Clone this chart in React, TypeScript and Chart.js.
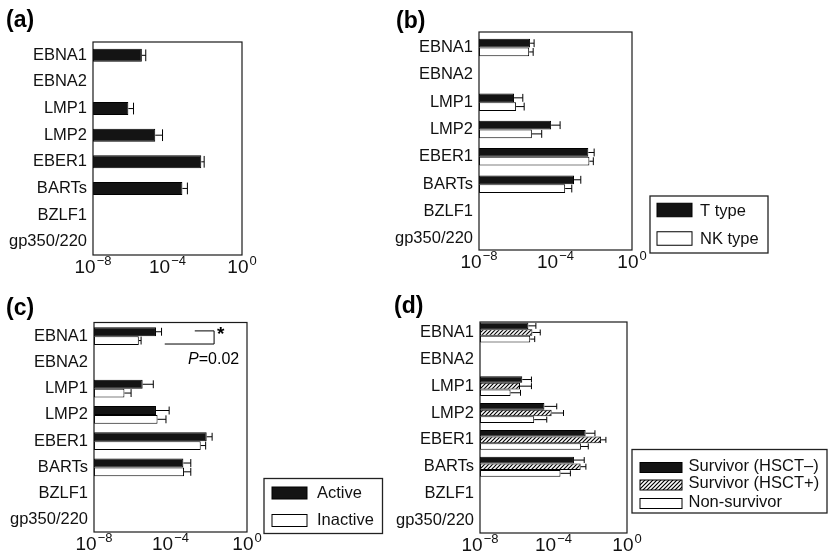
import React, { useEffect, useRef } from 'react';
import { Chart, registerables } from 'chart.js';

Chart.register(...registerables);

// ---------- data ----------
const categories = ['EBNA1', 'EBNA2', 'LMP1', 'LMP2', 'EBER1', 'BARTs', 'BZLF1', 'gp350/220'];
const xTickValues = [1e-8, 1e-4, 1];
const xTickBase = ['10', '10', '10'];
const xTickExponents = ['−8', '−4', '0'];

// (a) all patients: mean and mean+SE
const aMean = [4.2e-6, null, 7.9e-7, 2.2e-5, 6.5e-3, 6.3e-4, null, null];
const aUpper = [6.8e-6, null, 1.5e-6, 5.4e-5, 9.3e-3, 1.17e-3, null, null];

// (b) T type vs NK type
const bLabels = ['T type', 'NK type'];
const bTMean = [4.7e-6, null, 6.8e-7, 5.9e-5, 5.2e-3, 9.3e-4, null, null];
const bTUpper = [7.6e-6, null, 1.95e-6, 1.74e-4, 1.05e-2, 2.1e-3, null, null];
const bNKMean = [4.2e-6, null, 8.7e-7, 5.8e-6, 5.9e-3, 3.2e-4, null, null];
const bNKUpper = [6.8e-6, null, 2.3e-6, 1.9e-5, 9.5e-3, 7.1e-4, null, null];

// (c) Active vs Inactive
const cLabels = ['Active', 'Inactive'];
const cActMean = [1.74e-5, null, 3.5e-6, 1.74e-5, 7.8e-3, 4.7e-4, null, null];
const cActUpper = [3.4e-5, null, 1.26e-5, 8.5e-5, 1.5e-2, 1.15e-3, null, null];
const cInaMean = [2.2e-6, null, 3.9e-7, 2.1e-5, 3.8e-3, 5.1e-4, null, null];
const cInaUpper = [2.9e-6, null, 8.7e-7, 5.8e-5, 6.9e-3, 1.15e-3, null, null];
const cPText = '=0.02';

// (d) outcome groups
const dLabels = ['Survivor (HSCT–)', 'Survivor (HSCT+)', 'Non-survivor'];
const dS1Mean = [4.3e-6, null, 2.0e-6, 3.2e-5, 5.6e-3, 1.3e-3, null, null];
const dS1Upper = [1.1e-5, null, 6.3e-6, 1.5e-4, 1.8e-2, 4.7e-3, null, null];
const dS2Mean = [7.1e-6, null, 1.5e-6, 7.9e-5, 3.9e-2, 3.0e-3, null, null];
const dS2Upper = [1.9e-5, null, 6.3e-6, 3.5e-4, 7.1e-2, 5.8e-3, null, null];
const dNSMean = [5.4e-6, null, 4.6e-7, 8.9e-6, 3.1e-3, 2.4e-4, null, null];
const dNSUpper = [9.5e-6, null, 1.6e-6, 4.3e-5, 7.8e-3, 8.3e-4, null, null];

// ---------- helpers ----------
const FONT = "'Liberation Sans', Arial, Helvetica, sans-serif";

function pts(mean: (number | null)[], upper: (number | null)[]) {
  const out: { x: number; y: number; hi: number }[] = [];
  mean.forEach((m, i) => {
    if (m != null) out.push({ x: m, y: i, hi: upper[i] as number });
  });
  return out;
}

function hatchPattern(): CanvasPattern | string {
  const c = document.createElement('canvas');
  c.width = 4;
  c.height = 4;
  const g = c.getContext('2d');
  if (!g) return '#888';
  g.fillStyle = '#fff';
  g.fillRect(0, 0, 4, 4);
  g.strokeStyle = '#000';
  g.lineWidth = 1.2;
  g.beginPath();
  g.moveTo(-1, 5); g.lineTo(5, -1);
  g.moveTo(-1, 1); g.lineTo(1, -1);
  g.moveTo(3, 5); g.lineTo(5, 3);
  g.stroke();
  return g.createPattern(c, 'repeat') || '#888';
}

const decoPlugin = {
  id: 'panelDeco',
  afterDatasetsDraw(chart: any, _args: any, o: any) {
    const ctx: CanvasRenderingContext2D = chart.ctx;
    const { left, top, right, bottom } = chart.chartArea;
    const xs = chart.scales.x;
    const ys = chart.scales.y;
    const ox = o.ox, oy = o.oy;
    ctx.save();
    // error bars
    ctx.strokeStyle = '#000';
    ctx.lineWidth = 1;
    chart.data.datasets.forEach((ds: any, di: number) => {
      const meta = chart.getDatasetMeta(di);
      meta.data.forEach((el: any, i: number) => {
        const p = ds.data[i];
        const px = xs.getPixelForValue(p.hi);
        const ey = el.y;
        const hh = el.height;
        ctx.beginPath();
        ctx.moveTo(el.x, ey);
        ctx.lineTo(px, ey);
        ctx.moveTo(px, ey - hh * 0.45);
        ctx.lineTo(px, ey + hh * 0.45);
        ctx.stroke();
      });
    });
    // plot frame
    ctx.lineWidth = 1.2;
    ctx.strokeStyle = '#1a1a1a';
    ctx.strokeRect(left, top, right - left, bottom - top);
    // x tick labels: base "10" with superscript exponent, placed on the log scale
    ctx.fillStyle = '#111';
    ctx.textBaseline = 'alphabetic';
    ctx.textAlign = 'left';
    xs.ticks.forEach((t: any) => {
      let k = 0;
      xTickValues.forEach((v, i) => {
        if (Math.abs(Math.log10(v) - Math.log10(t.value)) < Math.abs(Math.log10(xTickValues[k]) - Math.log10(t.value))) k = i;
      });
      const px = xs.getPixelForValue(t.value);
      ctx.font = `19px ${FONT}`;
      const wb = ctx.measureText(xTickBase[k]).width;
      ctx.font = `13px ${FONT}`;
      const we = ctx.measureText(xTickExponents[k]).width;
      const x0 = px - (wb + we + 1) / 2;
      const base = bottom + o.tickDy;
      ctx.font = `19px ${FONT}`;
      ctx.fillText(xTickBase[k], x0, base);
      ctx.font = `13px ${FONT}`;
      ctx.fillText(xTickExponents[k], x0 + wb + 1, base - 8);
    });
    // panel title
    ctx.fillStyle = '#000';
    ctx.font = `bold 23px ${FONT}`;
    ctx.textAlign = 'left';
    ctx.textBaseline = 'middle';
    ctx.fillText(o.title, o.titleX - ox, o.titleY - oy);
    // legend
    if (o.legend) {
      const L = o.legend;
      ctx.lineWidth = 1.3;
      ctx.strokeStyle = '#222';
      ctx.strokeRect(L.x0 - ox, L.y0 - oy, L.x1 - L.x0, L.y1 - L.y0);
      ctx.font = `16.5px ${FONT}`;
      ctx.textBaseline = 'middle';
      chart.data.datasets.forEach((ds: any, di: number) => {
        const cy = L.rows[di] - oy;
        ctx.fillStyle = ds.backgroundColor;
        ctx.fillRect(L.sx - ox, cy - L.sh / 2, L.sw, L.sh);
        ctx.lineWidth = 1;
        ctx.strokeStyle = '#000';
        ctx.strokeRect(L.sx - ox, cy - L.sh / 2, L.sw, L.sh);
        ctx.fillStyle = '#111';
        ctx.fillText(ds.label, L.tx - ox, cy + (L.tdy || 0));
      });
    }
    // significance bracket
    if (o.bracket) {
      const B = o.bracket;
      const yTop = ys.getPixelForValue(B.yTop);
      const yBot = ys.getPixelForValue(B.yBot);
      const xTopStart = xs.getPixelForValue(B.topStart);
      const xBotStart = xs.getPixelForValue(B.botStart);
      const xEnd = xs.getPixelForValue(B.end);
      ctx.strokeStyle = '#000';
      ctx.lineWidth = 1;
      ctx.beginPath();
      ctx.moveTo(xTopStart, yTop);
      ctx.lineTo(xEnd, yTop);
      ctx.lineTo(xEnd, yBot);
      ctx.lineTo(xBotStart, yBot);
      ctx.stroke();
      ctx.fillStyle = '#000';
      ctx.font = `bold 19px ${FONT}`;
      ctx.textAlign = 'left';
      ctx.textBaseline = 'middle';
      ctx.fillText('*', xEnd + 3, yTop + 4);
      const py = ys.getPixelForValue(B.pY);
      const pxRight = xs.getPixelForValue(B.pX);
      ctx.font = `16px ${FONT}`;
      const wRest = ctx.measureText(cPText).width;
      ctx.font = `italic 16px ${FONT}`;
      const wP = ctx.measureText('P').width;
      ctx.fillText('P', pxRight - wRest - wP, py);
      ctx.font = `16px ${FONT}`;
      ctx.fillText(cPText, pxRight - wRest, py);
    }
    ctx.restore();
  },
};

type Panel = {
  ox: number; oy: number; w: number; h: number;
  L: number; T: number; R: number; B: number;
  yMin: number; yMax: number; catPct: number;
  datasets: any[];
  deco: any;
};

function makeConfig(p: Panel): any {
  return {
    type: 'bar',
    data: { datasets: p.datasets },
    options: {
      indexAxis: 'y',
      responsive: false,
      maintainAspectRatio: false,
      animation: false,
      events: [],
      layout: { padding: { left: 0, top: p.T - p.oy, right: p.ox + p.w - p.R, bottom: 0 } },
      datasets: { bar: { barPercentage: 1, categoryPercentage: p.catPct } },
      scales: {
        x: {
          type: 'logarithmic',
          min: 1e-8,
          max: 1,
          offset: false,
          position: 'bottom',
          grid: { display: false, drawTicks: false, offset: false },
          border: { display: false },
          afterBuildTicks: (s: any) => { s.ticks = xTickValues.map((v) => ({ value: v })); },
          afterFit: (s: any) => { s.height = p.oy + p.h - p.B; },
          ticks: { display: false, autoSkip: false },
        },
        y: {
          type: 'linear',
          min: p.yMin,
          max: p.yMax,
          reverse: true,
          offset: false,
          grid: { display: false, drawTicks: false, offset: false },
          border: { display: false },
          afterBuildTicks: (s: any) => { s.ticks = categories.map((_, i) => ({ value: i })); },
          afterFit: (s: any) => { s.width = p.L - p.ox; },
          ticks: {
            autoSkip: false,
            padding: 6,
            color: '#111',
            font: { family: FONT, size: 16.5 },
            callback: (v: number) => categories[Math.round(v)] ?? '',
          },
        },
      },
      plugins: {
        legend: { display: false },
        tooltip: { enabled: false },
        panelDeco: { ox: p.ox, oy: p.oy, tickDy: 18, ...p.deco },
      },
    },
    plugins: [decoPlugin],
  };
}

function ChartPanel({ build }: { build: () => Panel }) {
  const ref = useRef<HTMLCanvasElement | null>(null);
  const panelRef = useRef<Panel | null>(null);
  if (!panelRef.current) panelRef.current = build();
  const p = panelRef.current;
  useEffect(() => {
    if (!ref.current) return;
    const chart = new Chart(ref.current, makeConfig(build()));
    return () => chart.destroy();
  }, []);
  return (
    <canvas
      ref={ref}
      width={p.w}
      height={p.h}
      style={{ position: 'absolute', left: p.ox, top: p.oy, width: p.w, height: p.h }}
    />
  );
}

const BLACK = '#141414';
const barStyle = (bg: any) => ({ backgroundColor: bg, borderColor: '#000', borderWidth: 1, borderSkipped: false });

const buildA = (): Panel => ({
  ox: 0, oy: 0, w: 385, h: 280,
  L: 93, T: 42, R: 242, B: 255,
  yMin: -0.5, yMax: 7.5, catPct: 0.49,
  datasets: [{ label: 'All', data: pts(aMean, aUpper), ...barStyle(BLACK) }],
  deco: { title: '(a)', titleX: 6, titleY: 21 },
});

const buildB = (): Panel => ({
  ox: 385, oy: 0, w: 443, h: 280,
  L: 479, T: 32, R: 632, B: 250,
  yMin: -0.57, yMax: 7.41, catPct: 0.64,
  datasets: [
    { label: bLabels[0], data: pts(bTMean, bTUpper), ...barStyle(BLACK) },
    { label: bLabels[1], data: pts(bNKMean, bNKUpper), ...barStyle('#fff') },
  ],
  deco: {
    title: '(b)', titleX: 396, titleY: 22,
    legend: { x0: 650, y0: 196, x1: 768, y1: 253, sx: 657, sw: 35, sh: 13.5, tx: 700, rows: [210, 238.5], tdy: 1 },
  },
});

const buildC = (): Panel => ({
  ox: 0, oy: 280, w: 385, h: 280,
  L: 94, T: 322.5, R: 247, B: 532,
  yMin: -0.52, yMax: 7.46, catPct: 0.67,
  datasets: [
    { label: cLabels[0], data: pts(cActMean, cActUpper), ...barStyle(BLACK) },
    { label: cLabels[1], data: pts(cInaMean, cInaUpper), ...barStyle('#fff') },
  ],
  deco: {
    title: '(c)', titleX: 6, titleY: 309,
    legend: { x0: 264, y0: 478.5, x1: 382.5, y1: 533.5, sx: 272, sw: 35, sh: 12, tx: 317, rows: [493, 520.5], tdy: 0 },
    bracket: { yTop: -0.2, yBot: 0.3, topStart: 1.86e-3, botStart: 5e-5, end: 1.9e-2, pX: 0.39, pY: 0.89 },
  },
});

const buildD = (): Panel => ({
  ox: 385, oy: 280, w: 443, h: 280,
  L: 480, T: 322, R: 627, B: 533,
  yMin: -0.39, yMax: 7.47, catPct: 0.74,
  datasets: [
    { label: dLabels[0], data: pts(dS1Mean, dS1Upper), ...barStyle(BLACK) },
    { label: dLabels[1], data: pts(dS2Mean, dS2Upper), ...barStyle(hatchPattern()) },
    { label: dLabels[2], data: pts(dNSMean, dNSUpper), ...barStyle('#fff') },
  ],
  deco: {
    title: '(d)', titleX: 394, titleY: 307,
    legend: { x0: 632, y0: 449.5, x1: 827, y1: 513, sx: 640, sw: 42, sh: 10, tx: 688.5, rows: [467.5, 485, 503.5], tdy: -1.5 },
  },
});

export default function App() {
  return (
    <div style={{ position: 'absolute', left: 0, top: 0, width: 828, height: 560, background: '#fff', overflow: 'hidden' }}>
      <ChartPanel build={buildA} />
      <ChartPanel build={buildB} />
      <ChartPanel build={buildC} />
      <ChartPanel build={buildD} />
    </div>
  );
}
